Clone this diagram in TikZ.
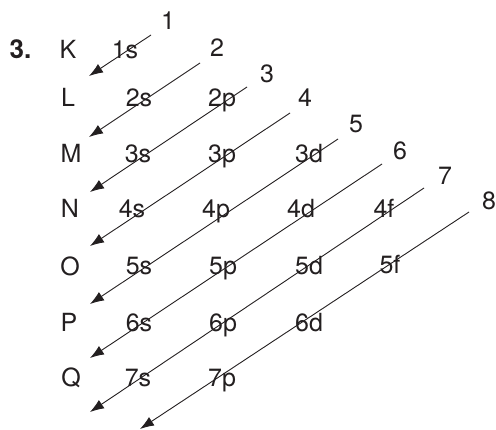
\documentclass[tikz,border=0pt]{standalone}
\usepackage{fontspec}
\setmainfont{TeX Gyre Heros}
\usetikzlibrary{arrows.meta}
\definecolor{ink}{HTML}{231F20}
\begin{document}
\begin{tikzpicture}[x=1pt,y=-1pt,
  lbl/.style={anchor=base,inner sep=0pt,text=ink,font=\fontsize{25}{29}\selectfont},
  arr/.style={draw=ink,line width=0.9pt,-{Latex[length=14pt,width=10pt]}}]
\useasboundingbox (0,0) rectangle (496,430);
% heading
\node[lbl,font=\fontsize{26}{30}\selectfont\bfseries] (head) at (20.5,59) {3.};
% shell letters
\node[lbl] (rK) at (68,59) {K};
\node[lbl] (rL) at (68,107) {L};
\node[lbl] (rM) at (71,163) {M};
\node[lbl] (rN) at (70,218) {N};
\node[lbl] (rO) at (70,276) {O};
\node[lbl] (rP) at (69,332) {P};
\node[lbl] (rQ) at (71,387) {Q};
% orbitals
\node[lbl] (o1s) at (125,59) {1s};
\node[lbl] (o2s) at (139,107) {2s};
\node[lbl] (o2p) at (222,107) {2p};
\node[lbl] (o3s) at (138,163) {3s};
\node[lbl] (o3p) at (222,163) {3p};
\node[lbl] (o3d) at (309,163) {3d};
\node[lbl] (o4s) at (132,218) {4s};
\node[lbl] (o4p) at (216,218) {4p};
\node[lbl] (o4d) at (301,218) {4d};
\node[lbl] (o4f) at (384,218) {4f};
\node[lbl] (o5s) at (139,275) {5s};
\node[lbl] (o5p) at (223,275) {5p};
\node[lbl] (o5d) at (309,275) {5d};
\node[lbl] (o5f) at (390,274) {5f};
\node[lbl] (o6s) at (139,332) {6s};
\node[lbl] (o6p) at (223,332) {6p};
\node[lbl] (o6d) at (309,332) {6d};
\node[lbl] (o7s) at (138,387) {7s};
\node[lbl] (o7p) at (222,387) {7p};
% numbers
\node[lbl] (num1) at (168,30) {1};
\node[lbl] (num2) at (217,57) {2};
\node[lbl] (num3) at (267,83) {3};
\node[lbl] (num4) at (305,107) {4};
\node[lbl] (num5) at (356,133) {5};
\node[lbl] (num6) at (400,160) {6};
\node[lbl] (num7) at (445,185) {7};
\node[lbl] (num8) at (489,210) {8};
% arrow ends
\coordinate (s1) at (151,35);  \coordinate (e1) at (89,76);
\coordinate (s2) at (200,63);  \coordinate (e2) at (89,137);
\coordinate (s3) at (247,87);  \coordinate (e3) at (90,192);
\coordinate (s4) at (290,113); \coordinate (e4) at (90,246);
\coordinate (s5) at (338,139); \coordinate (e5) at (90,304);
\coordinate (s6) at (382,164); \coordinate (e6) at (90,358);
\coordinate (s7) at (424,188); \coordinate (e7) at (90,412);
\coordinate (s8) at (469,212); \coordinate (e8) at (140,429);
\foreach \i in {1,...,8} \draw[arr] (s\i) -- (e\i);
\end{tikzpicture}
\end{document}
